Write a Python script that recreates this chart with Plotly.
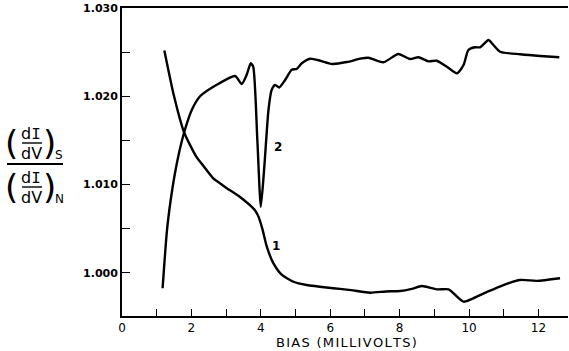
import plotly.graph_objects as go

# Curve 1 (decreasing)
x1 = [1.22, 1.50, 1.79, 2.15, 2.25, 2.63, 2.73, 3.02, 3.40, 3.83, 3.93, 4.05, 4.17, 4.36, 4.60, 4.94, 5.32,
      6.09, 6.60, 7.15, 7.60, 8.01, 8.35, 8.64, 9.07, 9.41, 9.55, 9.84, 10.12, 10.55, 10.99, 11.47, 11.95, 12.62]
y1 = [1.0252, 1.0200, 1.0159, 1.0131, 1.0126, 1.0107, 1.0104, 1.0096, 1.0086, 1.0071, 1.0064, 1.0049, 1.0030,
      1.0011, 0.9998, 0.9990, 0.99863, 0.99826, 0.99805, 0.99776, 0.99790, 0.99795, 0.99820, 0.99852, 0.99814,
      0.99814, 0.9977, 0.99674, 0.99712, 0.99790, 0.99863, 0.9992, 0.9991, 0.9994]

# Curve 2 (increasing, with dip)
x2 = [1.17, 1.30, 1.45, 1.60, 1.79, 2.01, 2.25, 2.73, 3.26, 3.45, 3.59, 3.71, 3.78, 3.90, 4.00, 4.10, 4.22,
      4.31, 4.41, 4.53, 4.70, 4.89, 5.03, 5.18, 5.42, 5.71, 6.05, 6.48, 6.86, 7.10, 7.53, 7.96, 8.30, 8.54,
      8.83, 9.07, 9.36, 9.65, 9.84, 9.98, 10.17, 10.32, 10.56, 10.70, 10.89, 11.47, 12.05, 12.60]
y2 = [0.99826, 1.0050, 1.0095, 1.0128, 1.0159, 1.01845, 1.0200, 1.0213, 1.0223, 1.0214, 1.02241, 1.02374,
      1.02335, 1.0150, 1.0075, 1.0120, 1.01845, 1.0207, 1.0213, 1.0210, 1.02185, 1.0230, 1.0231, 1.02374,
      1.02426, 1.02403, 1.02366, 1.02388, 1.02426, 1.02437, 1.02385, 1.02479, 1.02422, 1.02442, 1.02396,
      1.02403, 1.02335, 1.0226, 1.02354, 1.02524, 1.02555, 1.02555, 1.02638, 1.02581, 1.02505, 1.02476,
      1.02456, 1.02442]

x_ticks = list(range(0, 13))
x_labels = ["0", "", "2", "", "4", "", "6", "", "8", "", "10", "", "12"]
y_ticks = [1.000, 1.005, 1.010, 1.015, 1.020, 1.025, 1.030]
y_labels = ["1.000", "", "1.010", "", "1.020", "", "1.030"]

curve_labels = [("2", 4.50, 1.0143), ("1", 4.44, 1.0030)]
x_title = "BIAS (MILLIVOLTS)"

FONT = "DejaVu Sans"

fig = go.Figure()
for xs, ys in [(x1, y1), (x2, y2)]:
    fig.add_trace(go.Scatter(x=xs, y=ys, mode="lines",
                             line=dict(color="black", width=2.4, shape="spline", smoothing=0.6),
                             showlegend=False, hoverinfo="skip"))

for t, xv, yv in curve_labels:
    fig.add_annotation(x=xv, y=yv, text="<b>%s</b>" % t, showarrow=False,
                       font=dict(family=FONT, size=12, color="black"))

L, R, T, B = 122, 568, 8, 316
W, H = R - L, B - T


def px(x):
    return (x - L) / W


def py(y):
    return (B - y) / H


def txt(x, y, s, size, family=FONT):
    fig.add_annotation(x=px(x), y=py(y), xref="paper", yref="paper", text=s, showarrow=False,
                       font=dict(family=family, size=size, color="black"), xanchor="center", yanchor="middle")


def hline(x0, x1_, y, w=1.3):
    fig.add_shape(type="line", xref="paper", yref="paper", x0=px(x0), x1=px(x1_), y0=py(y), y1=py(y),
                  line=dict(color="black", width=w))


dI = "d<span style='font-family:Liberation Mono'>I</span>"
for (yline, sub, ysub) in [(143, "S", 155), (187, "N", 199)]:
    txt(31, yline - 9, dI, 16)
    hline(22, 42, yline, 1.4)
    txt(31, yline + 10, "dV", 16)
    txt(11, yline, "(", 34)
    txt(49, yline, ")", 34)
    txt(59, ysub, sub, 12)
hline(7, 63, 164, 1.8)

# x-axis title with slight letter spacing
spaced = "\u200a".join(list(x_title))
txt(346, 342, spaced, 13)

fig.update_layout(
    width=569, height=351,
    margin=dict(l=L, r=569 - R, t=T, b=351 - B),
    paper_bgcolor="white", plot_bgcolor="white",
    font=dict(family=FONT, color="black"),
    xaxis=dict(range=[0, 12.85], tickvals=x_ticks, ticktext=x_labels, ticks="inside", ticklen=7,
               tickwidth=1.2, tickcolor="black", showline=True, linecolor="black", linewidth=1.8,
               mirror=True, showgrid=False, zeroline=False, tickfont=dict(size=12, family=FONT)),
    yaxis=dict(range=[0.99512, 1.030], tickvals=y_ticks, ticktext=y_labels, ticks="inside", ticklen=8,
               tickwidth=1.2, tickcolor="black", showline=True, linecolor="black", linewidth=1.8,
               showgrid=False, zeroline=False, tickfont=dict(size=11, family=FONT, weight="bold")),
)

fig.write_html("out.html")
